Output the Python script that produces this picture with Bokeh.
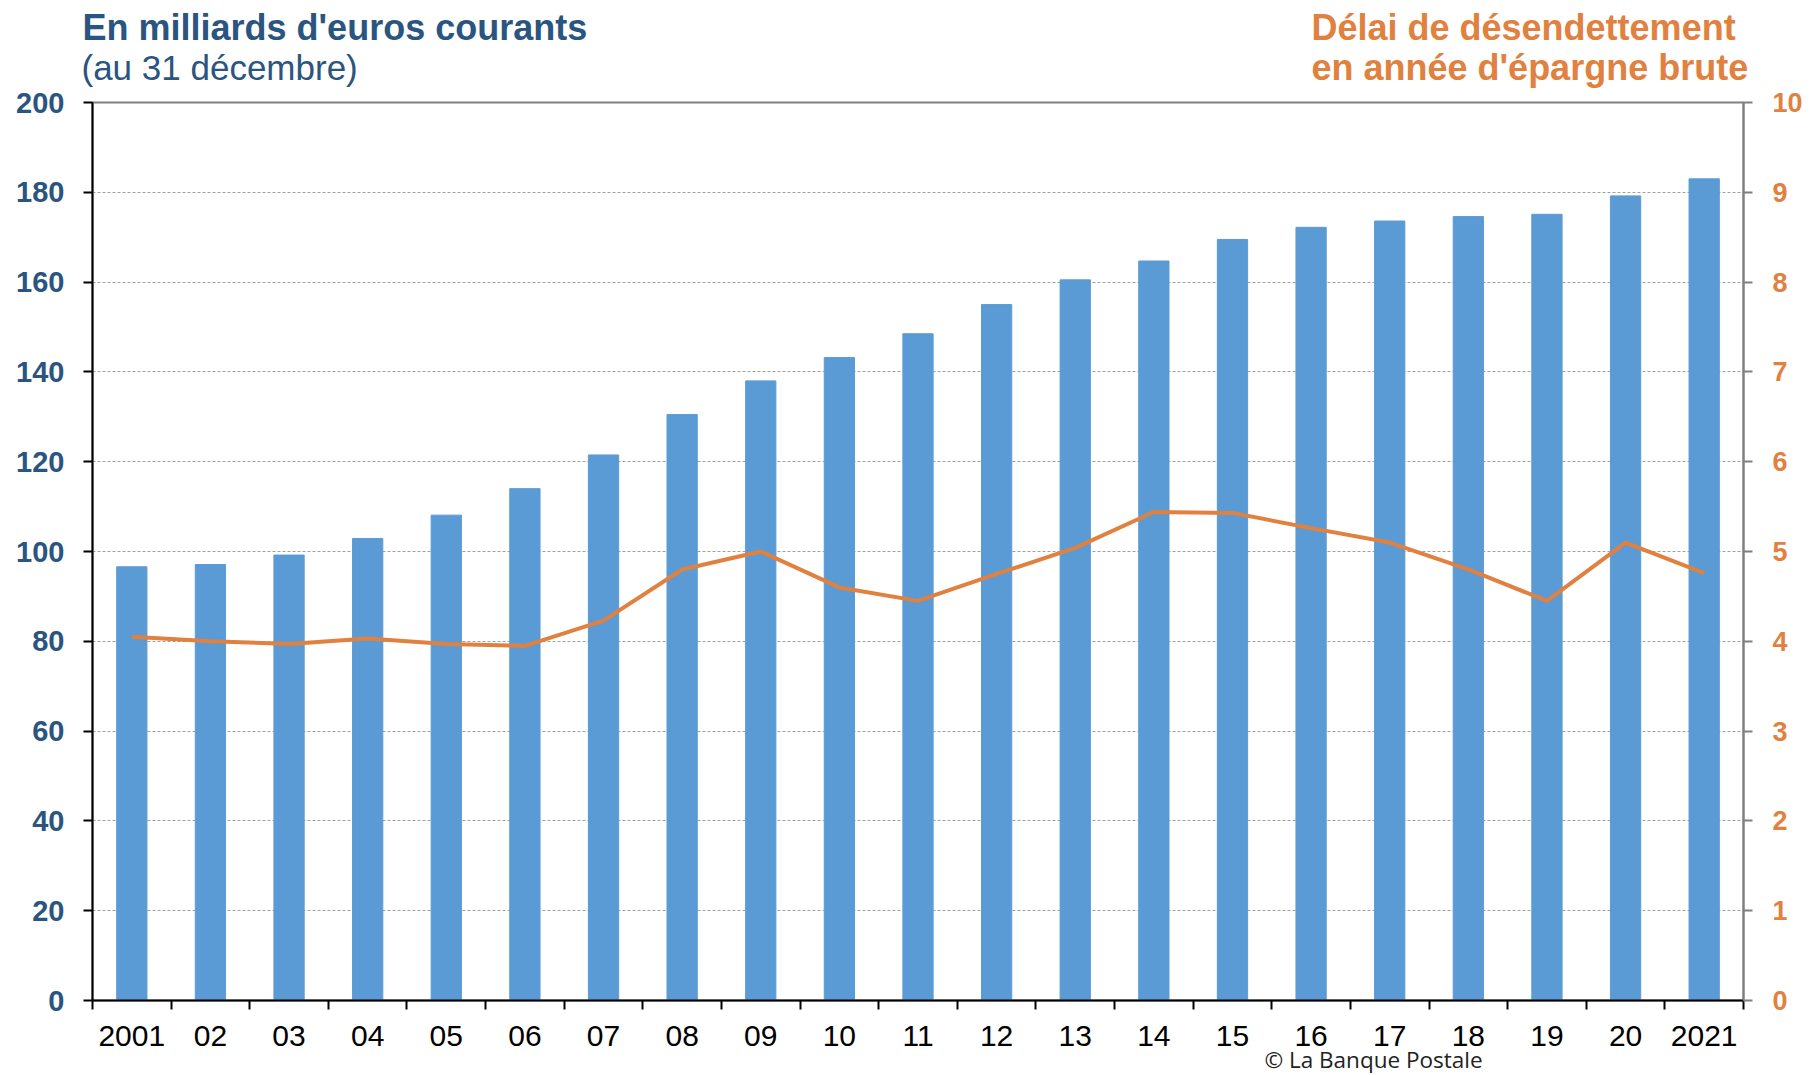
from bokeh.plotting import figure
from bokeh.layouts import column
from bokeh.models import Range1d, LinearAxis, FixedTicker, Label, ColumnDataSource
from bokeh.embed import file_html
from bokeh.resources import INLINE

years = list(range(2001, 2022))
year_labels = ["2001", "02", "03", "04", "05", "06", "07", "08", "09", "10", "11",
               "12", "13", "14", "15", "16", "17", "18", "19", "20", "2021"]
encours = [96.6, 97.1, 99.2, 102.9, 108.1, 114.0, 121.5, 130.5, 138.0, 143.2, 148.5,
           155.0, 160.5, 164.7, 169.5, 172.2, 173.6, 174.6, 175.1, 179.2, 183.0]
delai = [4.05, 4.00, 3.97, 4.03, 3.97, 3.95, 4.23, 4.80, 5.00, 4.60, 4.45,
         4.75, 5.04, 5.44, 5.43, 5.26, 5.10, 4.80, 4.45, 5.10, 4.76]
left_ticks = [0, 20, 40, 60, 80, 100, 120, 140, 160, 180, 200]
right_ticks = [0, 1, 2, 3, 4, 5, 6, 7, 8, 9, 10]

BLUE_BAR = "#5B9BD5"
ORANGE = "#E1813F"
NAVY = "#2A5580"
FONT = "Liberation Sans"

W = 1803
HEADER_H = 95
FOOTER_H = 31

# ---------------- header (titles) ----------------
header = figure(output_backend="svg", toolbar_location=None, width=W, height=HEADER_H,
                min_border=0, x_axis_type=None, y_axis_type=None,
                x_range=Range1d(0, W), y_range=Range1d(HEADER_H, 0))
header.frame_align = False
header.outline_line_color = None
header.grid.visible = False


def add_label(fig, x, y, text, color, style, size, font=FONT, align="left"):
    fig.add_layout(Label(x=x, y=y, text=text, text_color=color, text_font=font,
                         text_font_style=style, text_font_size=size,
                         text_align=align, text_baseline="alphabetic"))


add_label(header, 82, 27, "En milliards d'euros courants", NAVY, "bold", "36px")
add_label(header, 81, 67, "(au 31 décembre)", NAVY, "normal", "35px")
add_label(header, 1311, 27, "Délai de désendettement", ORANGE, "bold", "36px")
add_label(header, 1311, 67, "en année d'épargne brute", ORANGE, "bold", "36px")

# ---------------- main chart ----------------
src = ColumnDataSource(dict(year=years, encours=encours, delai=delai))

p = figure(output_backend="svg", toolbar_location=None,
           frame_width=1651, frame_height=898,
           min_border_left=92, min_border_right=60, min_border_top=30, min_border_bottom=52,
           x_range=Range1d(years[0] - 0.5, years[-1] + 0.5),
           y_range=Range1d(left_ticks[0], left_ticks[-1]))
p.frame_align = False
p.styles = {"margin-top": "-23px"}
p.border_fill_color = None
p.background_fill_color = "white"
p.extra_y_ranges = {"delai": Range1d(right_ticks[0], right_ticks[-1])}

p.outline_line_color = "#808080"
p.outline_line_width = 2

p.vbar(x="year", top="encours", width=0.385, color=BLUE_BAR, source=src)
p.line(x="year", y="delai", y_range_name="delai", line_color=ORANGE, line_width=4,
       line_join="round", source=src)

p.xgrid.visible = False
p.ygrid.ticker = FixedTicker(ticks=left_ticks)
p.ygrid.grid_line_color = "#A0A0A0"
p.ygrid.grid_line_dash = "3 2"
p.ygrid.grid_line_width = 1

xa = p.xaxis[0]
xa.ticker = FixedTicker(ticks=years, minor_ticks=[y - 0.5 for y in years] + [years[-1] + 0.5])
xa.major_label_overrides = {y: lab for y, lab in zip(years, year_labels)}
xa.major_tick_out = 0
xa.major_tick_in = 0
xa.minor_tick_out = 9
xa.minor_tick_in = 0
xa.minor_tick_line_color = "black"
xa.minor_tick_line_width = 2
xa.axis_line_color = "black"
xa.axis_line_width = 2
xa.major_label_text_font = FONT
xa.major_label_text_font_size = "30px"
xa.major_label_text_color = "black"
xa.major_label_standoff = 16

ya = p.yaxis[0]
ya.ticker = FixedTicker(ticks=left_ticks)
ya.major_tick_out = 9
ya.major_tick_in = 0
ya.minor_tick_out = 0
ya.minor_tick_in = 0
ya.axis_line_color = "black"
ya.axis_line_width = 2
ya.major_tick_line_color = "black"
ya.major_tick_line_width = 2
ya.major_label_text_font = FONT
ya.major_label_text_font_style = "bold"
ya.major_label_text_font_size = "29px"
ya.major_label_text_color = NAVY
ya.major_label_standoff = 19

ra = LinearAxis(y_range_name="delai", ticker=FixedTicker(ticks=right_ticks))
ra.major_tick_out = 9
ra.major_tick_in = 0
ra.minor_tick_out = 0
ra.minor_tick_in = 0
ra.axis_line_color = "#808080"
ra.axis_line_width = 2
ra.major_tick_line_color = "#808080"
ra.major_tick_line_width = 2
ra.major_label_text_font = FONT
ra.major_label_text_font_style = "bold"
ra.major_label_text_font_size = "27px"
ra.major_label_text_color = ORANGE
ra.major_label_standoff = 20
p.add_layout(ra, "right")

# ---------------- footer (copyright) ----------------
footer = figure(output_backend="svg", toolbar_location=None, width=W, height=FOOTER_H,
                min_border=0, x_axis_type=None, y_axis_type=None,
                x_range=Range1d(0, W), y_range=Range1d(FOOTER_H, 0))
footer.frame_align = False
footer.styles = {"margin-top": "-9px"}
footer.border_fill_color = None
footer.background_fill_color = None
footer.outline_line_color = None
footer.grid.visible = False
add_label(footer, 1373, 16, "© La Banque Postale", "#222222", "normal", "22.5px",
          font="Open Sans", align="center")

layout = column(header, p, footer, spacing=0)
open("out.html", "w").write(file_html(layout, INLINE))
